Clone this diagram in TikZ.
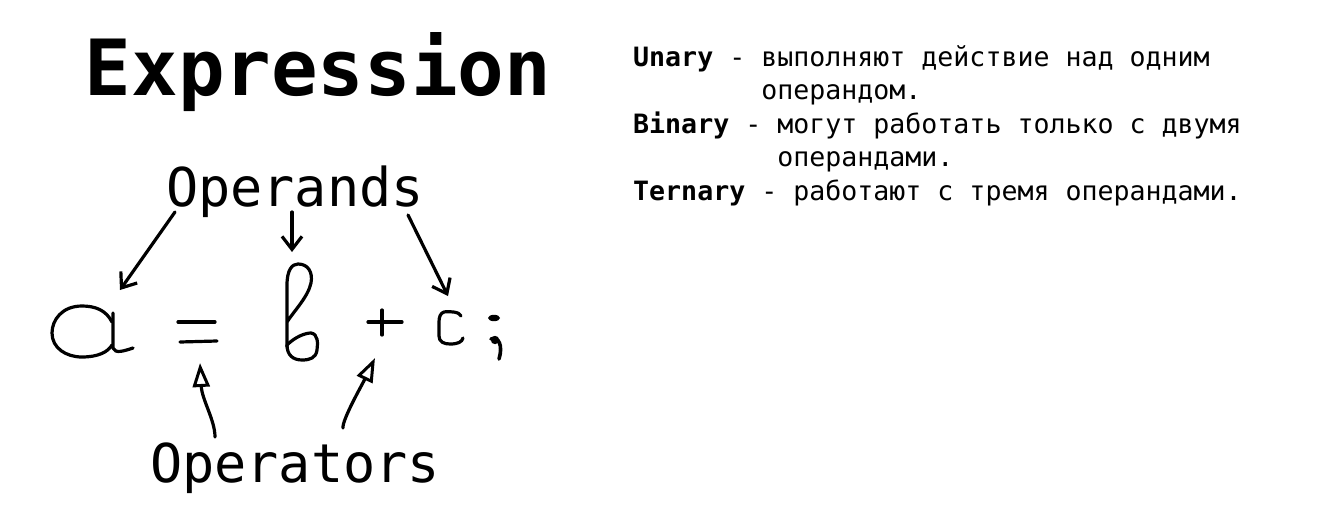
\documentclass[tikz,border=0pt]{standalone}
\usepackage{fontspec}
\newfontfamily\mono{DejaVu Sans Mono}
\usetikzlibrary{arrows.meta}
\tikzset{
  pen/.style={line width=3.2pt, line cap=round, line join=round, black},
  barb/.style={pen, -{Straight Barb[length=13pt,width=20pt,line width=3.2pt]}},
  tri/.style={pen, -{Triangle[open,length=24pt,width=17pt,line width=3pt]}},
  rtext/.style={anchor=base west, inner sep=0pt, font=\mono\fontsize{26.6}{30}\selectfont},
  big/.style={anchor=base, inner sep=0pt, font=\mono\fontsize{53.5}{60}\selectfont},
}
\begin{document}
\begin{tikzpicture}[x=1pt,y=-1pt]
\fill[white] (0,0) rectangle (1322,530);
\useasboundingbox (0,0) rectangle (1322,530);

% Title
\node[anchor=base, inner sep=0pt, font=\mono\bfseries\fontsize{77.5}{80}\selectfont] (title) at (318,95) {Expression};

% Labels
\node[big] (operands) at (295,206) {Operands};
\node[big] (operators) at (295,482) {Operators};

% Right-hand text
\node[rtext] (l1) at (633,66) {\textbf{Unary} - выполняют действие над одним};
\node[rtext] (l2) at (633,99.5) {\phantom{\textbf{Unary} - }операндом.};
\node[rtext] (l3) at (633,133) {\textbf{Binary} - могут работать только с двумя};
\node[rtext] (l4) at (633,166.5) {\phantom{\textbf{Binary} - }операндами.};
\node[rtext] (l5) at (633,200) {\textbf{Ternary} - работают с тремя операндами.};

% Hand-drawn "a"
\draw[pen] (112,322) .. controls (106,310) and (95,306) .. (82,306)
  .. controls (62,306) and (52,320) .. (52,333)
  .. controls (52,348) and (66,357) .. (82,357)
  .. controls (98,357) and (108,352) .. (112,345);
\draw[pen] (113,313) -- (113,348) .. controls (115,354) and (124,351) .. (133,348);

% "="
\draw[pen] (178,322) -- (215,322);
\draw[pen] (180,342) -- (217,341);

% "b"
\draw[pen] (287,347) -- (287,285) .. controls (287,270) and (292,264) .. (298,264)
  .. controls (308,264) and (313,272) .. (311,283)
  .. controls (308,297) and (294,311) .. (287,322);
\draw[pen] (287,345) .. controls (295,337) and (305,333) .. (311,333)
  .. controls (318,334) and (318,343) .. (317,350)
  .. controls (316,358) and (310,360) .. (302,360)
  .. controls (293,360) and (287,355) .. (287,345);

% "+"
\draw[pen] (382,310) -- (382,335);
\draw[pen] (368,322) -- (402,322);

% "c"
\draw[pen] (461,316) .. controls (460,312) and (450,311) .. (444,312)
  .. controls (440,313) and (439,318) .. (439,322) -- (439,336)
  .. controls (439,342) and (444,344) .. (450,344)
  .. controls (458,344) and (462,342) .. (463,338);

% ";"
\fill (494,318) ellipse (6 and 3.2);
\fill (495,340) circle (4.2);
\draw[pen, line width=3.6pt] (491,339) .. controls (499,336) and (503,346) .. (499,359);

% Operand arrows
\coordinate (s1) at (175,212);
\coordinate (t1) at (120,290);
\coordinate (s2) at (292,212);
\coordinate (t2) at (292,252);
\coordinate (s3) at (408,215);
\coordinate (t3) at (448,296);
\draw[barb] (s1) -- (t1);
\draw[barb] (s2) -- (t2);
\draw[barb] (s3) -- (t3);

% Operator arrows
\coordinate (u1) at (215,437);
\coordinate (v1) at (200,363);
\coordinate (u2) at (343,428);
\coordinate (v2) at (375,358);
\draw[tri] (u1) .. controls (215,420) and (202,400) .. (v1);
\draw[tri] (u2) .. controls (342,420) and (362,385) .. (v2);
\end{tikzpicture}
\end{document}
